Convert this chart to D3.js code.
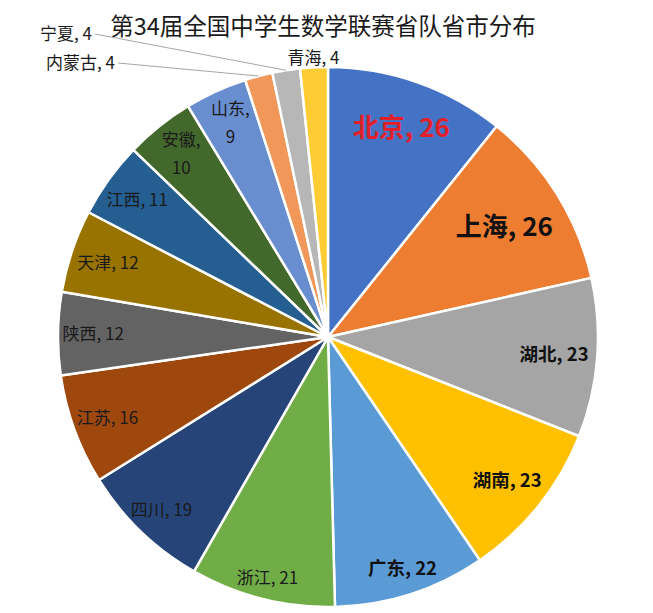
<!DOCTYPE html>
<html><head><meta charset="utf-8">
<script src="https://cdn.jsdelivr.net/npm/d3@7/dist/d3.min.js"></script>
<style>body{margin:0;background:#fff;} svg{display:block;}</style>
</head><body>
<svg id="chart" width="653" height="613"></svg>
<script>
const title = "第34届全国中学生数学联赛省队省市分布";
const provinces = ["北京","上海","湖北","湖南","广东","浙江","四川","江苏","陕西","天津","江西","安徽","山东","内蒙古","宁夏","青海"];
const counts = [26,26,23,23,22,21,19,16,12,12,11,10,9,4,4,4];
const colors = ["#4472C4","#ED7D31","#A5A5A5","#FFC000","#5B9BD5","#70AD47","#264478","#9E480E","#636363","#997300","#255E91","#43682B","#698ED0","#F1975A","#B7B7B7","#FFCD33"];

// label styling (not data)
const labelRadius = [0.82,0.77,0.84,0.85,0.9,0.92,0.89,0.87,0.87,0.86,0.87,0.87,0.87,1.06,1.06,1.035];
const labelStyle = {
  0:{size:26, weight:700, fill:"#E3202A"},
  1:{size:26, weight:700, fill:"#111"},
  2:{size:18.5, weight:700, fill:"#111"},
  3:{size:18.5, weight:700, fill:"#111"},
  4:{size:18.5, weight:700, fill:"#111"}
};

const svg = d3.select("#chart");
const cx = 328, cy = 337, R = 270;
const font = "'Noto Sans CJK SC','Microsoft YaHei',sans-serif";

svg.append("text")
  .attr("x", 323).attr("y", 35)
  .attr("text-anchor","middle")
  .attr("font-family",font)
  .attr("font-size", 23.5)
  .attr("fill","#1a1a1a")
  .text(title);

const data = provinces.map((p,i)=>({name:p, value:counts[i], color:colors[i], idx:i}));
const pie = d3.pie().value(d=>d.value).sort(null).startAngle(0).endAngle(2*Math.PI);
const arcs = pie(data);
const arc = d3.arc().innerRadius(0).outerRadius(R);

const g = svg.append("g").attr("transform",`translate(${cx},${cy})`);
g.selectAll("path.slice").data(arcs).enter().append("path")
  .attr("class","slice")
  .attr("d", arc)
  .attr("fill", d=>d.data.color)
  .attr("stroke","#fff")
  .attr("stroke-width",2.5)
  .attr("stroke-linejoin","round");

function pointAt(angle, r){ return [r*Math.sin(angle), -r*Math.cos(angle)]; }

arcs.forEach((a,i)=>{
  const mid = (a.startAngle + a.endAngle)/2;
  const st = labelStyle[i] || {size:17, weight:400, fill:"#1a1a1a"};
  const txt = `${a.data.name}, ${a.data.value}`;
  if (a.data.name === "内蒙古" || a.data.name === "宁夏") {
    const end = pointAt(mid, R);
    const lab = a.data.name === "宁夏" ? [-233, -303] : [-210, -274];
    g.append("line")
      .attr("x1", lab[0]).attr("y1", lab[1])
      .attr("x2", end[0]).attr("y2", end[1])
      .attr("stroke","#A6A6A6").attr("stroke-width",1);
    g.append("text")
      .attr("x", lab[0]-3).attr("y", lab[1])
      .attr("dy","0.35em")
      .attr("text-anchor","end")
      .attr("font-family",font).attr("font-size",17)
      .attr("fill","#1a1a1a")
      .text(txt);
    return;
  }
  const [x,y] = pointAt(mid, R*labelRadius[i]);
  const t = g.append("text")
    .attr("text-anchor","middle")
    .attr("font-family",font)
    .attr("font-size",st.size)
    .attr("font-weight",st.weight)
    .attr("fill",st.fill);
  if (a.data.name === "安徽" || a.data.name === "山东") {
    t.append("tspan").attr("x",x).attr("y",y-14).attr("dy","0.35em").text(a.data.name+",");
    t.append("tspan").attr("x",x).attr("y",y+14).attr("dy","0.35em").text(a.data.value);
  } else {
    t.attr("x",x).attr("y",y).attr("dy","0.35em").text(txt);
  }
});
</script>
</body></html>
